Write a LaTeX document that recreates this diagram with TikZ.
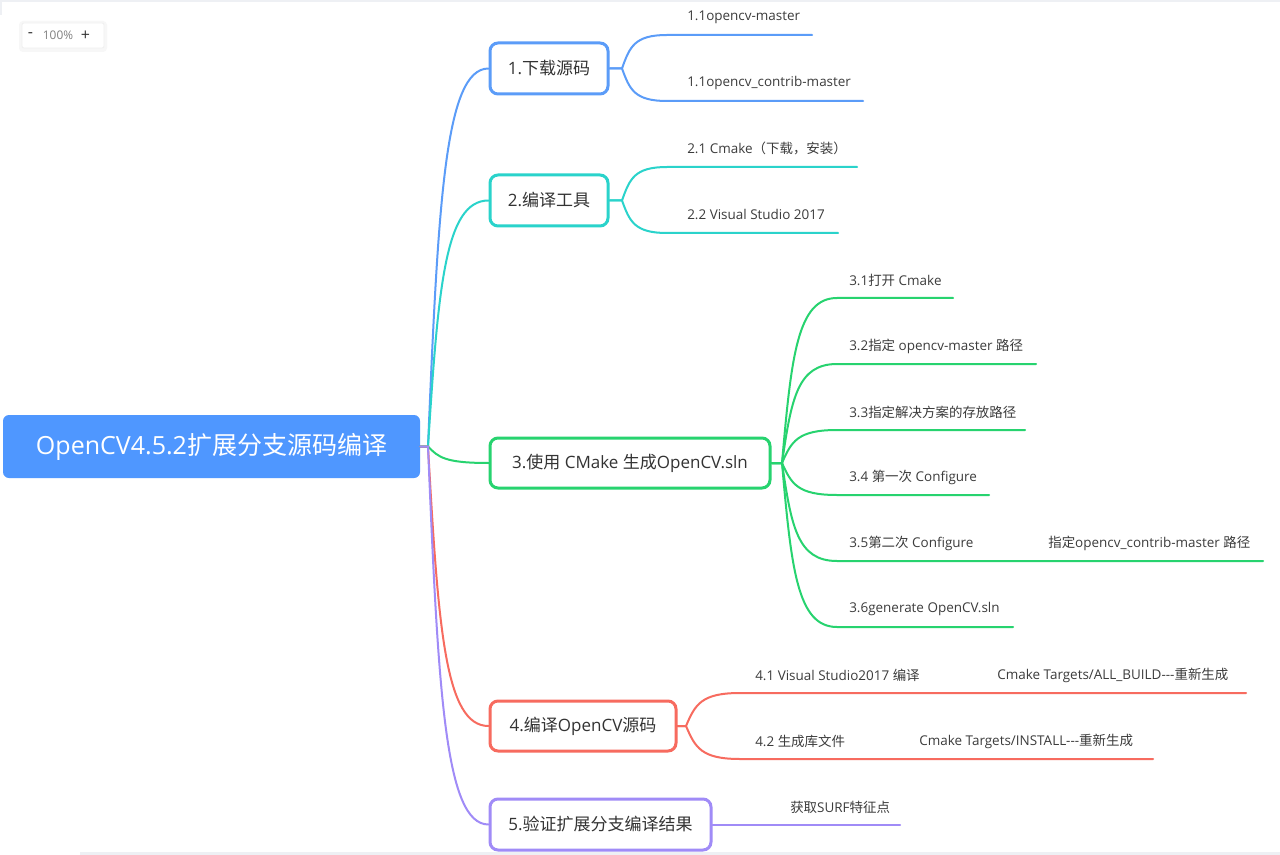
\documentclass[tikz,border=0pt]{standalone}
\usepackage{fontspec}
\setmainfont{Open Sans}
\newfontfamily\cjk{Noto Sans CJK SC}
\usetikzlibrary{calc}
\definecolor{rootblue}{HTML}{4F97FF}
\definecolor{cA}{HTML}{5B9CF8}
\definecolor{cB}{HTML}{2AD3CB}
\definecolor{cC}{HTML}{27D36F}
\definecolor{cD}{HTML}{F76B5F}
\definecolor{cE}{HTML}{A08BF7}
\definecolor{txt}{HTML}{333333}
\definecolor{leaftxt}{HTML}{3C3C3C}
\definecolor{edge}{HTML}{EEF0F4}
\begin{document}
\begin{tikzpicture}[x=0.75pt,y=-0.75pt,
  rootbox/.style={fill=rootblue, rounded corners=4.5pt, text=white, inner sep=0pt,
    font=\fontsize{18.75pt}{22pt}\selectfont},
  branchbox/.style={draw, line width=2.25pt, rounded corners=6pt, fill=white, text=txt,
    inner sep=0pt, font=\fontsize{12.75pt}{15pt}\selectfont},
  leaf/.style={anchor=west, inner sep=0pt, text=leaftxt, font=\fontsize{10.1pt}{12pt}\selectfont},
  conn/.style={line width=1.5pt, line cap=round},
  fork/.style={to path={let \p1=(\tikztostart), \p2=(\tikztotarget) in
     .. controls ({\x1+0.17*(\x2-\x1)},{\y1+0.65*(\y2-\y1)}) and ({\x1+0.28*(\x2-\x1)},\y2) .. (\tikztotarget) \tikztonodes}},
  widget/.style={fill=white, draw=black!6, line width=0.6pt, rounded corners=1.5pt, inner sep=0pt},
  wtxt/.style={inner sep=0pt, font=\fontsize{12pt}{14pt}\selectfont}
]
\useasboundingbox (0,0) rectangle (1280,855);
\fill[white] (0,0) rectangle (1280,855);
\fill[edge] (0,0) rectangle (1280,2);
\fill[edge] (0,0) rectangle (2,15);
\fill[edge] (80,852) rectangle (1280,855);

% zoom widget
\fill[black!3, rounded corners=3pt] (19,21) rectangle (107,52);
\node[widget, minimum width=61.5pt, minimum height=18.75pt] (zoombox) at (63,35.5) {};
\node[wtxt, text=txt] (zminus) at (30.5,35.5) {-};
\node[wtxt, text=gray, font=\fontsize{8.9pt}{10pt}\selectfont] (zpct) at (58,35.5) {100\%};
\node[wtxt, text=txt] (zplus) at (85.5,35.5) {+};

% root
\node[rootbox, minimum width=312.75pt, minimum height=47.25pt] (root) at (211.5,446.5)
  {OpenCV4.5.2{\cjk 扩展分支源码编译}};

% branches
\node[branchbox, draw=cA, minimum width=88.5pt, minimum height=38.25pt] (b1) at (549,68.5) {1.{\cjk 下载源码}};
\node[branchbox, draw=cB, minimum width=88.5pt, minimum height=38.25pt] (b2) at (549,200.5) {2.{\cjk 编译工具}};
\node[branchbox, draw=cC, minimum width=210pt, minimum height=37.5pt] (b3) at (630,463) {3.{\cjk 使用} CMake {\cjk 生成}OpenCV.sln};
\node[branchbox, draw=cD, minimum width=139.5pt, minimum height=37.5pt] (b4) at (583,726) {4.{\cjk 编译}OpenCV{\cjk 源码}};
\node[branchbox, draw=cE, minimum width=165.75pt, minimum height=38.25pt] (b5) at (600.5,824.5) {5.{\cjk 验证扩展分支编译结果}};

% junctions
\coordinate (j0) at (428,446.5);
\coordinate (j1) at (622,68.5);
\coordinate (j2) at (622,200.5);
\coordinate (j3) at (782,463);
\coordinate (j4) at (686,726);

% root connectors
\draw[conn, cA] (root.east) -- (j0) to[fork] (b1.west);
\draw[conn, cB] (root.east) -- (j0) to[fork] (b2.west);
\draw[conn, cC] (root.east) -- (j0) to[fork] (b3.west);
\draw[conn, cD] (root.east) -- (j0) to[fork] (b4.west);
\draw[conn, cE] (root.east) -- (j0) to[fork] (b5.west);

% leaf line coordinates
\coordinate (s11) at (667,35);  \coordinate (e11) at (812,35);
\coordinate (s12) at (667,101); \coordinate (e12) at (863,101);
\coordinate (s21) at (667,167); \coordinate (e21) at (857,167);
\coordinate (s22) at (667,233); \coordinate (e22) at (838,233);
\coordinate (s31) at (837,298); \coordinate (e31) at (953,298);
\coordinate (s32) at (837,364); \coordinate (e32) at (1036,364);
\coordinate (s33) at (837,430); \coordinate (e33) at (1025,430);
\coordinate (s34) at (837,495); \coordinate (e34) at (989,495);
\coordinate (s35) at (837,561); \coordinate (e35) at (1263,561);
\coordinate (s36) at (837,627); \coordinate (e36) at (1013,627);
\coordinate (s41) at (740,693); \coordinate (e41) at (1246,693);
\coordinate (s42) at (740,759); \coordinate (e42) at (1153,759);
\coordinate (e51) at (900,824.5);

% branch 1
\draw[conn, cA] (b1.east) -- (j1) to[fork] (s11) -- (e11);
\draw[conn, cA] (b1.east) -- (j1) to[fork] (s12) -- (e12);
% branch 2
\draw[conn, cB] (b2.east) -- (j2) to[fork] (s21) -- (e21);
\draw[conn, cB] (b2.east) -- (j2) to[fork] (s22) -- (e22);
% branch 3
\foreach \k in {1,...,6}{
  \draw[conn, cC] (b3.east) -- (j3) to[fork] (s3\k) -- (e3\k);
}
% branch 4
\draw[conn, cD] (b4.east) -- (j4) to[fork] (s41) -- (e41);
\draw[conn, cD] (b4.east) -- (j4) to[fork] (s42) -- (e42);
% branch 5
\draw[conn, cE] (b5.east) -- (e51);

% leaf texts
\node[leaf] (t11) at (687,17) {1.1opencv-master};
\node[leaf] (t12) at (687,83) {1.1opencv\_contrib-master};
\node[leaf] (t21) at (687,148) {2.1 Cmake{\cjk （下载，安装）}};
\node[leaf] (t22) at (687,214) {2.2 Visual Studio 2017};
\node[leaf] (t31) at (849,280) {3.1{\cjk 打开} Cmake};
\node[leaf] (t32) at (849,346) {3.2{\cjk 指定} opencv-master {\cjk 路径}};
\node[leaf] (t33) at (849,412) {3.3{\cjk 指定解决方案的存放路径}};
\node[leaf] (t34) at (849,477) {3.4 {\cjk 第一次} Configure};
\node[leaf] (t35) at (849,543) {3.5{\cjk 第二次} Configure};
\node[leaf] (t35b) at (1048,543) {{\cjk 指定}opencv\_contrib-master {\cjk 路径}};
\node[leaf] (t36) at (849,609) {3.6generate OpenCV.sln};
\node[leaf] (t41) at (755,675) {4.1 Visual Studio2017 {\cjk 编译}};
\node[leaf] (t41b) at (997,675) {Cmake Targets/ALL\_BUILD-{}-{}-{\cjk 重新生成}};
\node[leaf] (t42) at (755,741) {4.2 {\cjk 生成库文件}};
\node[leaf] (t42b) at (919,741) {Cmake Targets/INSTALL-{}-{}-{\cjk 重新生成}};
\node[leaf] (t51) at (790,807) {{\cjk 获取}SURF{\cjk 特征点}};
\end{tikzpicture}
\end{document}
